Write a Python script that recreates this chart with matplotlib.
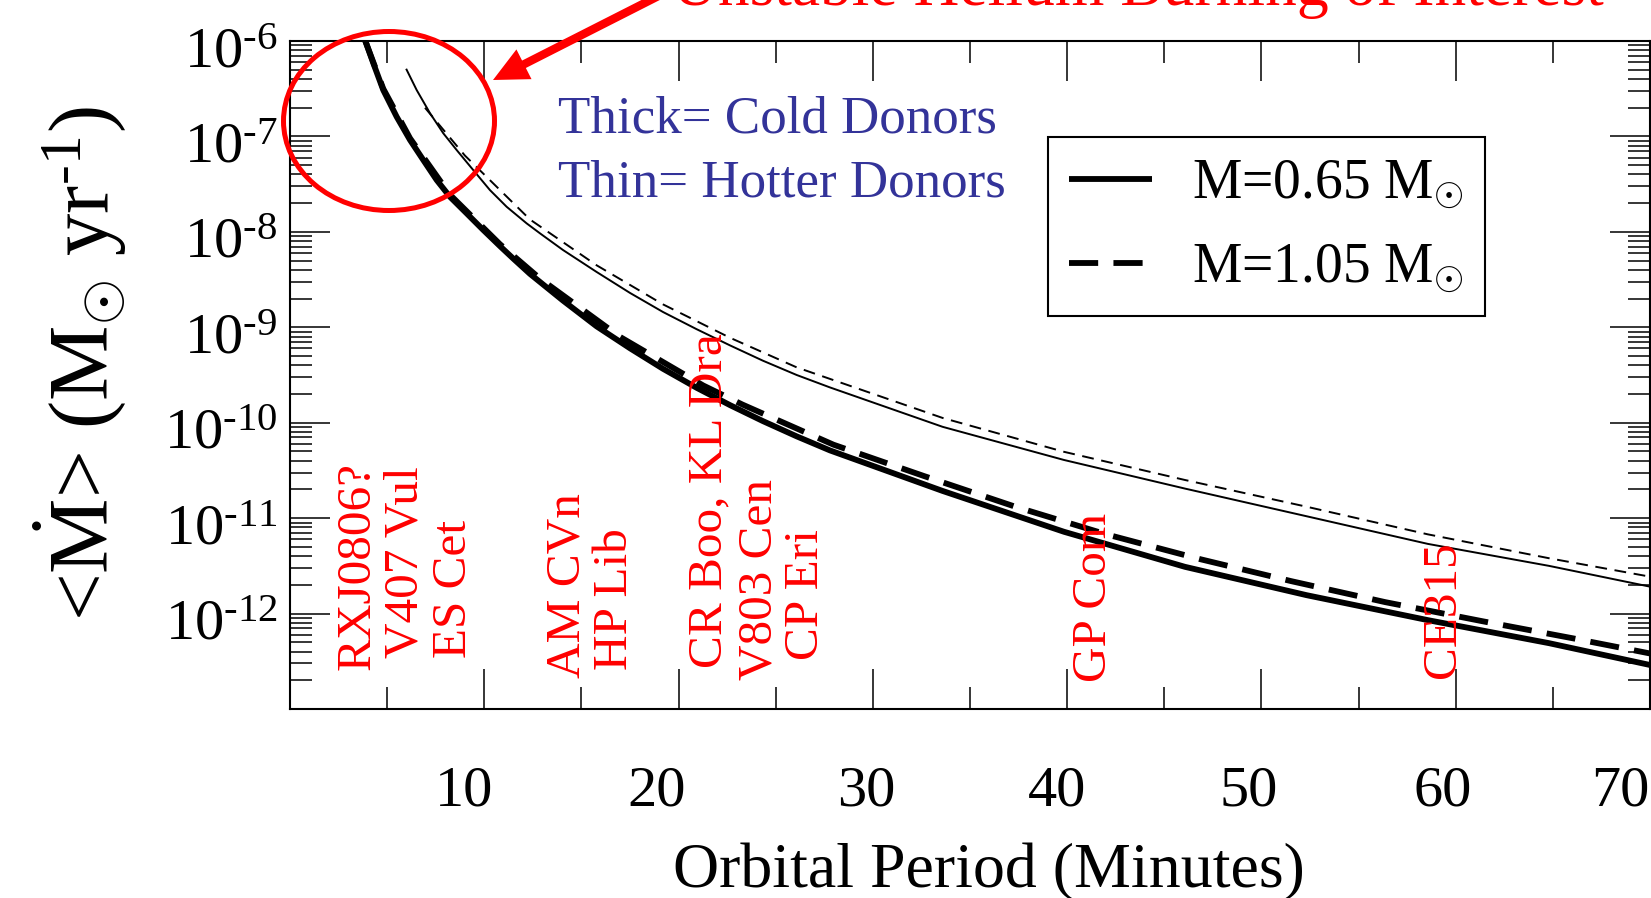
import numpy as np
import matplotlib
matplotlib.use("Agg")
import matplotlib.pyplot as plt
from matplotlib.patches import Ellipse, FancyArrowPatch, ArrowStyle
from matplotlib.transforms import ScaledTranslation, blended_transform_factory
from matplotlib.ticker import LogLocator, NullFormatter

plt.rcParams['font.family'] = ['Liberation Serif', 'DejaVu Serif']
plt.rcParams['mathtext.fontset'] = 'custom'
plt.rcParams['mathtext.rm'] = 'Liberation Serif'
plt.rcParams['mathtext.it'] = 'Liberation Serif:italic'
plt.rcParams['mathtext.bf'] = 'Liberation Serif:bold'
plt.rcParams['lines.scale_dashes'] = False

# ---- accretion-rate tracks: orbital period (min) vs log10 <Mdot> (Msun/yr) ----
# cold donors (thick lines)
p_cold_065 = [3.86, 4.29, 4.80, 5.49, 6.18, 6.86, 7.55, 8.23, 9.09, 9.95, 10.81,
              11.49, 12.35, 14.05, 15.78, 17.50, 19.20, 20.93, 22.65, 24.34, 26.08,
              27.79, 33.59, 39.84, 46.06, 52.32, 58.57, 64.80, 70.05]
lg_cold_065 = [-5.99, -6.234, -6.514, -6.794, -7.038, -7.247, -7.457, -7.632, -7.806,
               -7.981, -8.15, -8.28, -8.44, -8.72, -8.99, -9.22, -9.435, -9.634,
               -9.816, -9.983, -10.143, -10.29, -10.715, -11.143, -11.510, -11.807,
               -12.069, -12.310, -12.541]

p_cold_105 = [3.86, 4.80, 6.18, 8.23, 10.81, 12.87, 16.98, 21.27, 23.29, 27.97, 32.65,
              37.33, 42.02, 46.85, 51.53, 56.37, 61.37, 66.05, 70.05]
lg_cold_105 = [-5.99, -6.50, -7.02, -7.61, -8.13, -8.49, -9.10, -9.61, -9.81, -10.23,
               -10.56, -10.88, -11.17, -11.43, -11.66, -11.88, -12.08, -12.26, -12.42]

# hotter donors (thin lines)
p_hot_065 = [6.00, 6.52, 7.21, 7.89, 8.58, 9.43, 10.29, 11.15, 12.18, 12.87, 14.05,
             15.78, 17.50, 19.20, 20.93, 22.65, 24.34, 26.08, 27.79, 33.59, 39.83,
             46.06, 52.32, 58.57, 64.80, 70.05]
lg_hot_065 = [-6.30, -6.514, -6.758, -6.967, -7.143, -7.352, -7.562, -7.737, -7.911,
              -8.016, -8.19, -8.42, -8.64, -8.84, -9.02, -9.19, -9.35, -9.50,
              -9.63, -10.043, -10.39, -10.69, -10.98, -11.27, -11.50, -11.72]

p_hot_105 = [6.95, 9.00, 12.35, 15.78, 19.20, 22.65, 26.08, 33.59, 39.84, 46.06,
             52.32, 58.57, 64.80, 70.05]
lg_hot_105 = [-6.70, -7.20, -7.87, -8.35, -8.76, -9.11, -9.42, -9.95, -10.305,
              -10.60, -10.88, -11.17, -11.42, -11.615]

legend_labels = [r'M=0.65 M$_{\odot}$', r'M=1.05 M$_{\odot}$']

# known systems and where their names sit
system_names = ['RXJ0806?', 'V407 Vul', 'ES Cet', 'AM CVn', 'HP Lib',
                'CR Boo, KL Dra', 'V803 Cen', 'CP Eri', 'GP Com', 'CE315']
system_period = [3.50, 5.93, 8.44, 14.26, 16.73, 21.57, 24.14, 26.56, 41.39, 59.35]
system_base = [0.058, 0.076, 0.076, 0.046, 0.058, 0.061, 0.043, 0.073, 0.040, 0.046]

x_major = [10, 20, 30, 40, 50, 60, 70]
x_minor = [5, 15, 25, 35, 45, 55, 65]
x_tick_labels = ['10', '20', '30', '40', '50', '60', '70']
y_major = [1e-13, 1e-12, 1e-11, 1e-10, 1e-9, 1e-8, 1e-7, 1e-6]
y_tick_labels = ['', r'$10^{\text{-12}}$', r'$10^{\text{-11}}$', r'$10^{\text{-10}}$',
                 r'$10^{\text{-9}}$', r'$10^{\text{-8}}$', r'$10^{\text{-7}}$',
                 r'$10^{\text{-6}}$']

# ---- figure ----
W, H = 1651, 898
fig = plt.figure(figsize=(W / 100, H / 100), dpi=100)
fig.patch.set_facecolor('white')
ax = fig.add_axes([290 / W, 1 - 709 / H, 1360 / W, 668 / H])
ax.set_yscale('log')
ax.set_xlim(0, 70)
ax.set_ylim(1e-13, 1e-6)

h1, = ax.plot(p_cold_065, 10 ** np.array(lg_cold_065), color='black', lw=4.2,
              solid_capstyle='butt')
h2, = ax.plot(p_cold_105, 10 ** np.array(lg_cold_105), color='black', lw=4.2,
              dashes=(21, 11), dash_capstyle='butt')
ax.plot(p_hot_065, 10 ** np.array(lg_hot_065), color='black', lw=1.4)
ax.plot(p_hot_105, 10 ** np.array(lg_hot_105), color='black', lw=1.4,
        dashes=(8.5, 5.5), dash_capstyle='butt')

for s in ax.spines.values():
    s.set_linewidth(1.5)

ax.set_xticks(x_major)
ax.set_xticks(x_minor, minor=True)
ax.set_xticklabels(x_tick_labels)
ax.set_yticks(y_major)
ax.set_yticklabels(y_tick_labels)
ax.yaxis.set_minor_locator(LogLocator(base=10, subs=np.arange(2, 10), numticks=30))
ax.yaxis.set_minor_formatter(NullFormatter())
ax.tick_params(which='both', direction='in', top=True, right=True, width=1.1,
               color='black')
ax.tick_params(which='major', length=29)
ax.tick_params(which='minor', length=15.5)
ax.tick_params(axis='x', which='major', pad=40.5, labelsize=42)
ax.tick_params(axis='y', which='major', pad=9, labelsize=42)

x_shift = [-20, -22, -7, -10, -13, -13, -30]
for lab, dx in zip(ax.get_xticklabels(), x_shift):
    lab.set_transform(lab.get_transform() + ScaledTranslation(dx / 100, 0, fig.dpi_scale_trans))
for lab in ax.get_yticklabels():
    lab.set_transform(lab.get_transform() + ScaledTranslation(0, -6 / 100, fig.dpi_scale_trans))

ax.set_xlabel('Orbital Period (Minutes)', fontsize=46)
ax.xaxis.set_label_coords(0.514, -0.244)
ax.xaxis.label.set_va('center')
ax.set_ylabel(r'<$\dot{\mathrm{M}}$> (M$_{\odot}$ yr$^{\text{-1}}$)', fontsize=61)
ax.yaxis.set_label_coords(-0.1544, 0.5165)
ax.yaxis.label.set_va('center')

# system names along the bottom
trans = blended_transform_factory(ax.transData, ax.transAxes)
for name, p, yb in zip(system_names, system_period, system_base):
    ax.text(p, yb, name, transform=trans, rotation=90, ha='center', va='bottom',
            color='red', fontsize=35.5, clip_on=False)

# legend
leg = ax.legend([h1, h2], legend_labels, loc='upper left',
                bbox_to_anchor=(1048 / W, 1 - 137 / H), bbox_transform=fig.transFigure,
                frameon=True, fancybox=False, edgecolor='black', framealpha=1,
                borderpad=0.38, handlelength=1.49, handletextpad=0.73,
                labelspacing=0.56, borderaxespad=0, prop={'size': 40})
leg.get_frame().set_linewidth(1.5)

# explanatory text
fig.text(558 / W, 1 - 132.7 / H, 'Thick= Cold Donors', color='#333399',
         fontsize=38.2, va='baseline', ha='left')
fig.text(558 / W, 1 - 196.7 / H, 'Thin= Hotter Donors', color='#333399',
         fontsize=38.2, va='baseline', ha='left')

# highlighted region and its call-out
circ = Ellipse((389 / W, 1 - 121 / H), 211 / W, 179 / H, transform=fig.transFigure,
               fill=False, edgecolor='red', lw=3.6)
fig.patches.append(circ)
arrow = FancyArrowPatch((690 / W, 1 + 20 / H), (493 / W, 1 - 80 / H),
                        transform=fig.transFigure,
                        arrowstyle=ArrowStyle.Simple(head_length=25, head_width=24,
                                                     tail_width=6),
                        mutation_scale=1, color='red', lw=0, shrinkA=0, shrinkB=0)
fig.patches.append(arrow)
fig.text(672 / W, 1 - 5 / H, 'Unstable Helium Burning of Interest', color='red',
         fontsize=45.7, va='baseline', ha='left')

fig.savefig('out.png', dpi=100)
